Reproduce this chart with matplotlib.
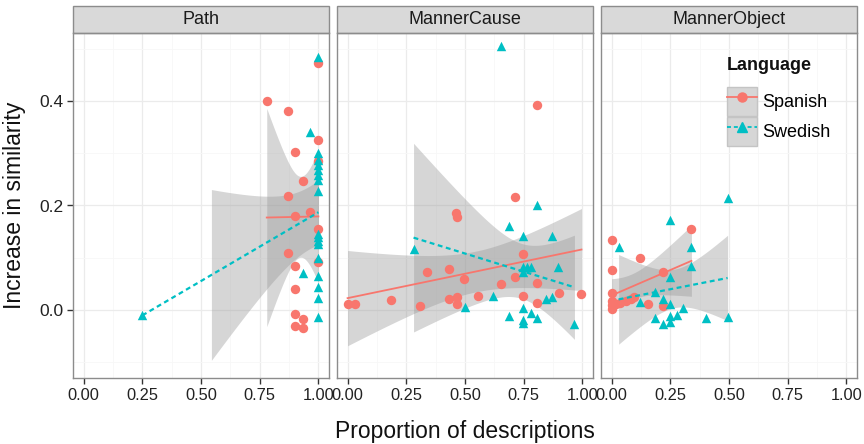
import numpy as np
import matplotlib
matplotlib.use('Agg')
import matplotlib.pyplot as plt
from matplotlib.patches import Patch, Rectangle
from matplotlib.lines import Line2D

plt.rcParams['font.family'] = ['Liberation Sans', 'DejaVu Sans']

# ---- data ----
facets = ['Path', 'MannerCause', 'MannerObject']

path_es_x = [0.78, 0.872, 0.872, 0.872, 0.9, 0.9, 0.9, 0.9, 0.9, 0.9, 0.936, 0.936, 0.936,
             0.966, 1.0, 1.0, 1.0, 1.0, 1.0]
path_es_y = [0.40, 0.38, 0.219, 0.11, 0.303, 0.18, 0.084, 0.04, -0.008, -0.03, 0.247, -0.018, -0.035,
             0.188, 0.472, 0.326, 0.285, 0.155, 0.091]
path_sv_x = [0.25, 0.936, 0.962, 1.0, 1.0, 1.0, 1.0, 1.0, 1.0, 1.0, 1.0, 1.0, 1.0, 1.0, 1.0,
             1.0, 1.0, 1.0, 1.0, 1.0]
path_sv_y = [-0.01, 0.07, 0.34, 0.485, 0.30, 0.287, 0.278, 0.268, 0.258, 0.249, 0.227, 0.146,
             0.14, 0.132, 0.126, 0.066, 0.045, 0.023, -0.013, 0.10]

cause_es_x = [0.0, 0.03, 0.187, 0.31, 0.34, 0.434, 0.434, 0.464, 0.464, 0.46, 0.465, 0.494,
              0.557, 0.655, 0.715, 0.715, 0.745, 0.745, 0.808, 0.808, 0.808, 0.902, 0.996]
cause_es_y = [0.012, 0.012, 0.019, 0.008, 0.072, 0.078, 0.021, 0.025, 0.012, 0.185, 0.178, 0.06,
              0.027, 0.049, 0.064, 0.217, 0.107, 0.027, 0.052, 0.014, 0.392, 0.033, 0.03]
cause_sv_x = [0.281, 0.498, 0.621, 0.655, 0.686, 0.686, 0.745, 0.745, 0.766, 0.779, 0.749, 0.745,
              0.745, 0.745, 0.779, 0.808, 0.808, 0.843, 0.872, 0.872, 0.898, 0.966]
cause_sv_y = [0.117, 0.006, 0.027, 0.505, 0.161, -0.012, 0.142, 0.082, 0.083, 0.082, 0.072, 0.004,
              -0.02, -0.025, -0.006, 0.2, -0.016, 0.021, 0.025, 0.142, 0.082, -0.026]

object_es_x = [0.0, 0.0, 0.0, 0.0, 0.0, 0.0, 0.017, 0.038, 0.06, 0.081, 0.094, 0.119, 0.153,
               0.217, 0.217, 0.34]
object_es_y = [0.134, 0.076, 0.033, 0.017, 0.01, 0.002, 0.012, 0.014, 0.017, 0.021, 0.025, 0.099,
               0.012, 0.072, 0.008, 0.155]
object_sv_x = [0.03, 0.119, 0.183, 0.183, 0.217, 0.217, 0.247, 0.247, 0.247, 0.247, 0.247, 0.28,
               0.306, 0.34, 0.34, 0.404, 0.494, 0.494]
object_sv_y = [0.12, 0.016, 0.035, -0.016, 0.021, -0.027, 0.173, 0.064, 0.012, -0.012, -0.023, -0.01,
               0.004, 0.12, 0.085, -0.016, 0.214, -0.013]

data = {
    'Path': [(path_es_x, path_es_y), (path_sv_x, path_sv_y)],
    'MannerCause': [(cause_es_x, cause_es_y), (cause_sv_x, cause_sv_y)],
    'MannerObject': [(object_es_x, object_es_y), (object_sv_x, object_sv_y)],
}
languages = ['Spanish', 'Swedish']
colors = ['#F8766D', '#00BFC4']
markers = ['o', '^']
ylims = (-0.1, 0.5)


def t975(df):
    # Cornish-Fisher expansion of the t quantile
    z = 1.959964
    g1 = (z**3 + z) / 4
    g2 = (5*z**5 + 16*z**3 + 3*z) / 96
    g3 = (3*z**7 + 19*z**5 + 17*z**3 - 15*z) / 384
    g4 = (79*z**9 + 776*z**7 + 1482*z**5 - 1920*z**3 - 945*z) / 92160
    return z + g1/df + g2/df**2 + g3/df**3 + g4/df**4


def lm_smooth(x, y, n=80):
    x = np.asarray(x); y = np.asarray(y)
    b, a = np.polyfit(x, y, 1)
    res = y - (a + b*x)
    s = np.sqrt(np.sum(res**2) / (len(x) - 2))
    sxx = np.sum((x - x.mean())**2)
    xs = np.linspace(x.min(), x.max(), n)
    fit = a + b*xs
    se = s*np.sqrt(1/len(x) + (xs - x.mean())**2/sxx)
    t = t975(len(x) - 2)
    return xs, fit, fit - t*se, fit + t*se


W, H = 864, 444
fig = plt.figure(figsize=(W/100, H/100), dpi=100)

left, step, pw = 73, 264, 256
top, bot = 33, 378
axes = []
for i, f in enumerate(facets):
    ax = fig.add_axes([(left + i*step)/W, 1 - bot/H, pw/W, (bot - top)/H])
    axes.append(ax)
    ax.set_xlim(-0.045, 1.045)
    ax.set_ylim(-0.13, 0.53)
    ax.set_xticks([0, 0.25, 0.5, 0.75, 1.0])
    ax.set_xticklabels(['0.00', '0.25', '0.50', '0.75', '1.00'])
    ax.set_xticks([0.125, 0.375, 0.625, 0.875], minor=True)
    ax.set_yticks([0.0, 0.2, 0.4])
    ax.set_yticklabels(['0.0', '0.2', '0.4'])
    ax.set_yticks([-0.1, 0.1, 0.3, 0.5], minor=True)
    ax.grid(which='major', color='#EBEBEB', lw=0.9)
    ax.grid(which='minor', color='#F7F7F7', lw=0.6)
    ax.set_axisbelow(True)
    for sp in ax.spines.values():
        sp.set_color('#8C8C8C')
        sp.set_linewidth(1.0)
    ax.tick_params(which='major', length=4, width=1, color='#333333',
                   labelsize=11.8, labelcolor='#222222', pad=3)
    ax.tick_params(which='minor', length=0)
    if i > 0:
        ax.tick_params(axis='y', which='both', left=False, labelleft=False)
    else:
        ax.tick_params(axis='y', labelsize=12.5)

    # strip
    sh = 27/(bot - top)
    ax.add_patch(Rectangle((0, 1), 1, sh, transform=ax.transAxes, clip_on=False,
                           facecolor='#D9D9D9', edgecolor='#8C8C8C', lw=1.0))
    ax.text(0.5, 1 + sh/2, f, transform=ax.transAxes, ha='center', va='center',
            fontsize=13, color='#1A1A1A')

    for k, (xs_, ys_) in enumerate(data[f]):
        xs, fit, lo, hi = lm_smooth(xs_, ys_)
        ok = (lo >= ylims[0]) & (hi <= ylims[1])
        ax.fill_between(xs, lo, hi, where=ok, color='#999999', alpha=0.4, lw=0, zorder=2)
        ax.scatter(xs_, ys_, s=46, marker=markers[k], color=colors[k], lw=0, zorder=3)
        if k == 0:
            ax.plot(xs, fit, color=colors[k], lw=1.3, zorder=4)
        else:
            ax.plot(xs, fit, color=colors[k], lw=1.6, dashes=(2.2, 1.6), zorder=4)

fig.text(0.5*(73 + 857)/W, 1 - 431/H, 'Proportion of descriptions', ha='center', va='center',
         fontsize=16.5, color='#111111')
fig.text(15/W, 1 - 205/H, 'Increase in similarity', ha='center', va='center',
         rotation=90, fontsize=16.5, color='#111111')

# legend (title drawn separately to get ggplot-like spacing)
axes[2].text(0.492, 0.905, 'Language', transform=axes[2].transAxes, ha='left', va='center',
             fontsize=13, fontweight='bold', color='#111111')
handles = []
for k in range(2):
    ls = '-' if k == 0 else (0, (2.2, 1.6))
    handles.append((Patch(facecolor='#D6D6D6', edgecolor='#C4C4C4'),
                    Line2D([], [], color=colors[k], lw=1.3, ls=ls, marker=markers[k], markersize=6.5)))
leg = axes[2].legend(handles, languages, loc='upper left', bbox_to_anchor=(0.48, 0.855),
                     frameon=False, fontsize=13, handlelength=1.65,
                     handleheight=2.1, labelspacing=0.05, handletextpad=0.3,
                     borderpad=0.2, borderaxespad=0)

fig.savefig('out.png', dpi=100)
